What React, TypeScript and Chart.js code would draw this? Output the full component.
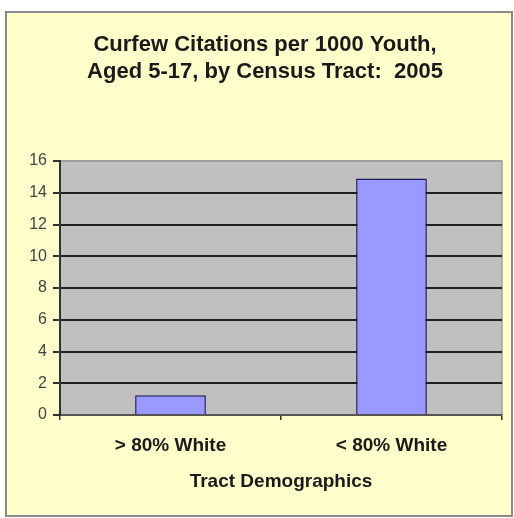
import React, { useEffect, useRef } from "react";
import { Chart, registerables } from "chart.js";

Chart.register(...registerables);

const categories = ["> 80% White", "< 80% White"];
const citations = [1.25, 14.9];
const titleLines = ["Curfew Citations per 1000 Youth,", "Aged 5-17, by Census Tract:  2005"];
const xTitle = "Tract Demographics";

const framePlugin = {
  id: "frame",
  beforeDraw(chart: any) {
    const { ctx, chartArea } = chart;
    ctx.save();
    ctx.fillStyle = "#ffffff";
    ctx.fillRect(0, 0, chart.width, chart.height);
    ctx.fillStyle = "#FFFFCC";
    ctx.fillRect(6, 12, 506, 504);
    ctx.strokeStyle = "#8a8a8a";
    ctx.lineWidth = 2;
    ctx.strokeRect(6, 12, 506, 504);
    ctx.fillStyle = "#C0C0C0";
    ctx.fillRect(chartArea.left, chartArea.top, chartArea.right - chartArea.left, chartArea.bottom - chartArea.top);
    ctx.strokeStyle = "#a0a0a0";
    ctx.lineWidth = 1.5;
    ctx.beginPath();
    ctx.moveTo(chartArea.left, chartArea.top);
    ctx.lineTo(chartArea.right, chartArea.top);
    ctx.lineTo(chartArea.right, chartArea.bottom);
    ctx.stroke();
    ctx.restore();
  },
};

const FONT = "Liberation Sans, Arial, sans-serif";

export default function App() {
  const ref = useRef<HTMLCanvasElement>(null);
  useEffect(() => {
    if (!ref.current) return;
    const chart = new Chart(ref.current, {
      type: "bar",
      data: {
        labels: categories,
        datasets: [
          {
            data: citations,
            backgroundColor: "#9999FF",
            borderColor: "#1a1a5a",
            borderWidth: 1.5,
            barPercentage: 0.32,
            categoryPercentage: 1,
          },
        ],
      },
      plugins: [framePlugin],
      options: {
        animation: false,
        responsive: false,
        maintainAspectRatio: false,
        layout: { padding: { left: 28, right: 12, top: 22, bottom: 24.4 } },
        plugins: {
          legend: { display: false },
          tooltip: { enabled: false },
          title: {
            display: true,
            text: titleLines,
            color: "#1a1a1a",
            font: { family: FONT, size: 22, weight: "bold", lineHeight: 1.23 },
            padding: { top: 9.5, bottom: 75.4 },
          },
        },
        scales: {
          x: {
            grid: {
              display: true,
              drawOnChartArea: false,
              drawTicks: true,
              tickLength: 5,
              offset: true,
              color: "#333333",
              lineWidth: 1.5,
            },
            border: { display: true, color: "#555555", width: 2 },
            ticks: {
              color: "#1a1a1a",
              font: { family: FONT, size: 19, weight: "bold" },
              padding: 14,
            },
            title: {
              display: true,
              text: xTitle,
              color: "#1a1a1a",
              font: { family: FONT, size: 19, weight: "bold" },
              padding: { top: 0, bottom: 0 },
            },
          },
          y: {
            min: 0,
            max: 16,
            afterFit: (s: any) => {
              s.width = 32;
            },
            ticks: {
              stepSize: 2,
              color: "#444444",
              font: { family: FONT, size: 16 },
              padding: 6,
            },
            grid: {
              color: (c: any) => (c.tick && c.tick.value === 16 ? "#a0a0a0" : "#1f1f1f"),
              tickColor: "#333333",
              lineWidth: 2,
              tickLength: 7,
            },
            border: { display: true, color: "#333333", width: 2 },
          },
        },
      },
    });
    return () => chart.destroy();
  }, []);
  return (
    <div style={{ position: "absolute", left: 0, top: 0, width: 514, height: 518 }}>
      <canvas ref={ref} width={514} height={518} style={{ width: 514, height: 518, display: "block" }} />
    </div>
  );
}
